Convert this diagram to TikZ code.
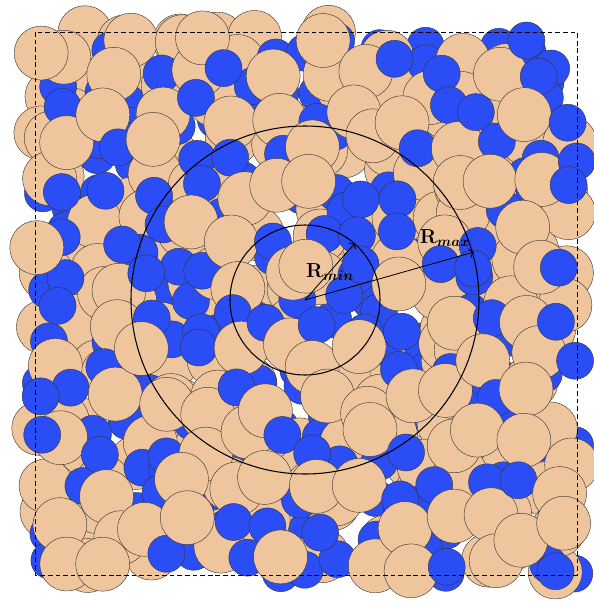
\documentclass[tikz,border=0pt]{standalone}
\usepackage{amsmath,amssymb}
\usetikzlibrary{arrows.meta}
\definecolor{sand}{RGB}{238,197,156}
\definecolor{royal}{RGB}{43,77,245}
\tikzset{
  grain/.style={draw=black!80, line width=0.35pt},
  sandgrain/.style={grain, fill=sand},
  bluegrain/.style={grain, fill=royal},
  shell/.style={draw=black, line width=0.9pt},
  radiusarrow/.style={-{To[length=4pt]}, line width=0.7pt}
}

\begin{document}
\begin{tikzpicture}[x=0.03cm, y=-0.03cm]
  \clip (0,0) rectangle (594,606);
  \pgfmathsetseed{2718}
  % grains, three jittered layers, centres wrapped into the box
  \foreach \layer/\off in {0/0,1/14,2/27}{
    \foreach \i in {0,...,12}{
      \foreach \j in {0,...,12}{
        \pgfmathsetmacro\cx{35+mod(542+8+41.7*\i+\off+15*rand,542)}
        \pgfmathsetmacro\cy{32+mod(543+8+41.8*\j+\off+15*rand,543)}
        \pgfmathsetmacro\kind{rnd}
        \ifdim\kind pt<0.5pt
          \draw[sandgrain] (\cx,\cy) circle[radius=27];
        \else
          \draw[bluegrain] (\cx,\cy) circle[radius=18.5];
        \fi
      }
    }
  }
  % box
  \draw[dash pattern=on 4pt off 2.5pt, line width=0.5pt] (35,32) rectangle (577,575);
  % shells
  \coordinate (c) at (305,300);
  \draw[shell] (c) circle[radius=174];
  \draw[shell] (c) circle[radius=75];
  \coordinate (rmin) at (355,243);
  \coordinate (rmax) at (474,252);
  \draw[radiusarrow] (c) -- (rmin);
  \draw[radiusarrow] (c) -- (rmax);
  \node[font=\LARGE\boldmath] (lmin) at (330,272) {$\mathbf{R}_{min}$};
  \node[font=\LARGE\boldmath] (lmax) at (445,238) {$\mathbf{R}_{max}$};
\end{tikzpicture}
\end{document}
